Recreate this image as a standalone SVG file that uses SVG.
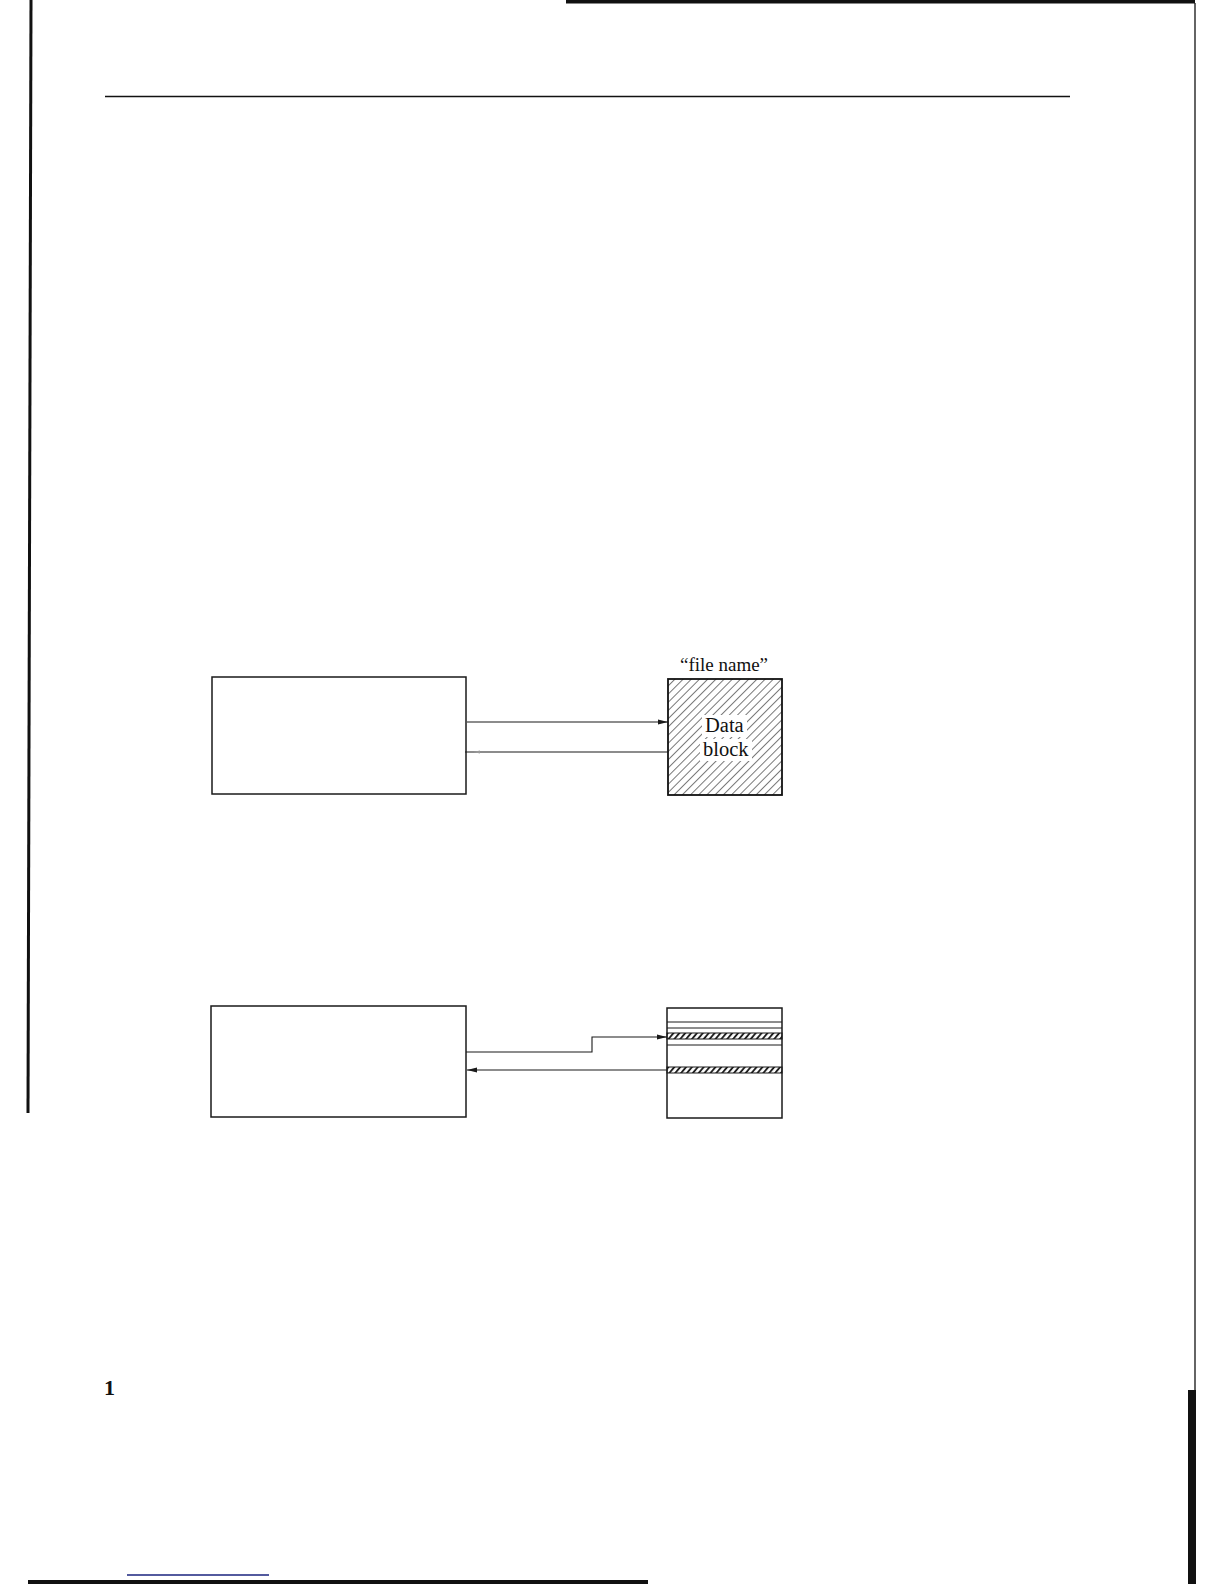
<svg xmlns="http://www.w3.org/2000/svg" width="1224" height="1584" viewBox="0 0 1224 1584">
  <style>
    .box { fill: #ffffff; stroke: #1a1a1a; stroke-width: 1.5; }
    .conn { fill: none; stroke: #1a1a1a; stroke-width: 1.1; }
    .lbl { font-family: "Liberation Serif", "Times New Roman", serif; font-size: 19px; fill: #111111; }
    .big { font-size: 20.5px; }
    .rule { stroke: #111111; }
    .thin { stroke: #1a1a1a; stroke-width: 1; }
  </style>
  <defs>
    <pattern id="hatch" width="5.8" height="5.8" patternUnits="userSpaceOnUse" patternTransform="rotate(45)">
      <line x1="0.5" y1="0" x2="0.5" y2="5.8" stroke="#555555" stroke-width="0.8"/>
    </pattern>
    <pattern id="bandHatch" width="4.5" height="4.5" patternUnits="userSpaceOnUse" patternTransform="rotate(40)">
      <line x1="1" y1="0" x2="1" y2="4.5" stroke="#111111" stroke-width="1.8"/>
    </pattern>
    <marker id="arr" markerWidth="10" markerHeight="6" refX="10" refY="3" orient="auto" markerUnits="userSpaceOnUse">
      <path d="M0,0.5 L10,3 L0,5.5 Z" fill="#1a1a1a"/>
    </marker>
  </defs>

  <rect width="1224" height="1584" fill="#ffffff"/>

  <!-- page decorations -->
  <g id="page">
    <line class="rule" x1="31" y1="0" x2="28" y2="1113" stroke-width="3"/>
    <rect x="566" y="0" width="629" height="3.5" fill="#111111"/>
    <line class="rule" x1="1195" y1="3" x2="1195" y2="1400" stroke-width="1.3"/>
    <rect x="1188" y="1390" width="8" height="194" fill="#111111"/>
    <line class="rule" x1="105" y1="96.5" x2="1070" y2="96.5" stroke-width="1.5"/>
    <rect x="28" y="1580" width="620" height="4" fill="#111111"/>
    <line x1="127" y1="1575" x2="269" y2="1575" stroke="#1a237e" stroke-width="1.5"/>
    <text x="104" y="1395" font-family="Liberation Serif, serif" font-size="22" font-weight="bold" fill="#111111">1</text>
  </g>

  <!-- diagram 1 -->
  <g id="program1">
    <rect class="box" x="212" y="677" width="254" height="117"/>
  </g>
  <g id="datablock">
    <rect x="668" y="679" width="114" height="116" fill="url(#hatch)" stroke="#111111" stroke-width="1.8"/>
    <rect x="702" y="715" width="45" height="22" fill="#ffffff"/>
    <rect x="700" y="739" width="52" height="22" fill="#ffffff"/>
    <text class="lbl big" x="705" y="732">Data</text>
    <text class="lbl big" x="703" y="756">block</text>
  </g>
  <g id="filename-label">
    <text class="lbl" x="724" y="671" text-anchor="middle">“file name”</text>
  </g>

  <!-- diagram 2 -->
  <g id="program2">
    <rect class="box" x="211" y="1006" width="255" height="111"/>
  </g>
  <g id="recordfile">
    <rect class="box" x="667" y="1008" width="115" height="110"/>
    <line class="thin" x1="667" y1="1022" x2="782" y2="1022"/>
    <line class="thin" x1="667" y1="1028" x2="782" y2="1028"/>
    <rect x="667" y="1033" width="115" height="6" fill="url(#bandHatch)" stroke="#1a1a1a" stroke-width="1"/>
    <line class="thin" x1="667" y1="1045" x2="782" y2="1045"/>
    <rect x="667" y="1067" width="115" height="6" fill="url(#bandHatch)" stroke="#1a1a1a" stroke-width="1"/>
  </g>

  <!-- connectors -->
  <g id="connectors">
    <line class="conn" x1="467" y1="722" x2="668" y2="722" marker-end="url(#arr)"/>
    <line class="conn" x1="668" y1="752" x2="465" y2="752"/>
    <path d="M473,750.5 L480,752 L473,753.5 Z" fill="#999999" transform="rotate(180 476.5 752)"/>
    <polyline class="conn" points="466,1052 592,1052 592,1037 667,1037" marker-end="url(#arr)"/>
    <line class="conn" x1="667" y1="1070" x2="467" y2="1070" marker-end="url(#arr)"/>
  </g>
</svg>
